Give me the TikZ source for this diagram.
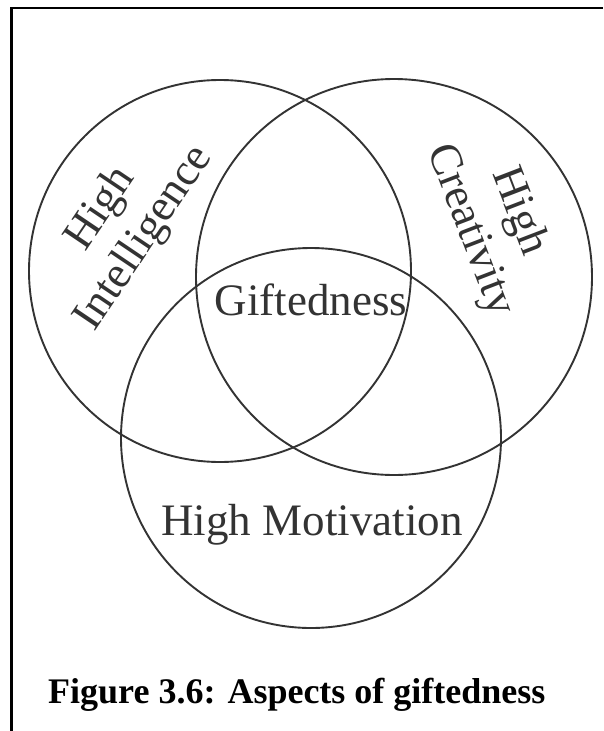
\documentclass[tikz,border=0pt]{standalone}
\usepackage{fontspec}
\setmainfont{Liberation Serif}
\definecolor{ink}{HTML}{333333}
\tikzset{
  ring/.style={circle, draw=ink, line width=1.9pt, inner sep=0pt},
  lab/.style={text=ink, font=\fontsize{45}{52}\selectfont, inner sep=0pt, align=center},
  frame/.style={line width=2.4pt, draw=black}
}
\begin{document}
\begin{tikzpicture}[x=1pt, y=-1pt]
\useasboundingbox (0,0) rectangle (603,731);
\fill[white] (0,0) rectangle (603,731);
\draw[frame] (11.5,731) -- (11.5,8) -- (603,8);
\node[ring, minimum size=382pt] (intel) at (220,271) {};
\node[ring, minimum size=396pt] (creat) at (394,277) {};
\node[ring, minimum size=380pt] (motiv) at (311,438) {};
\node[lab, rotate=56] (tintel) at (123,224) {High\\Intelligence};
\node[lab, rotate=-69] (tcreat) at (494,221) {High\\Creativity};
\node[lab, anchor=base] (tgift) at (311,315) {Giftedness};
\node[lab, anchor=base] (tmotiv) at (312,535) {High Motivation};
\node[anchor=base west, inner sep=0pt, font=\fontsize{36}{40}\selectfont\bfseries] (cap) at (48,703) {Figure 3.6: Aspects of giftedness};
\end{tikzpicture}
\end{document}
